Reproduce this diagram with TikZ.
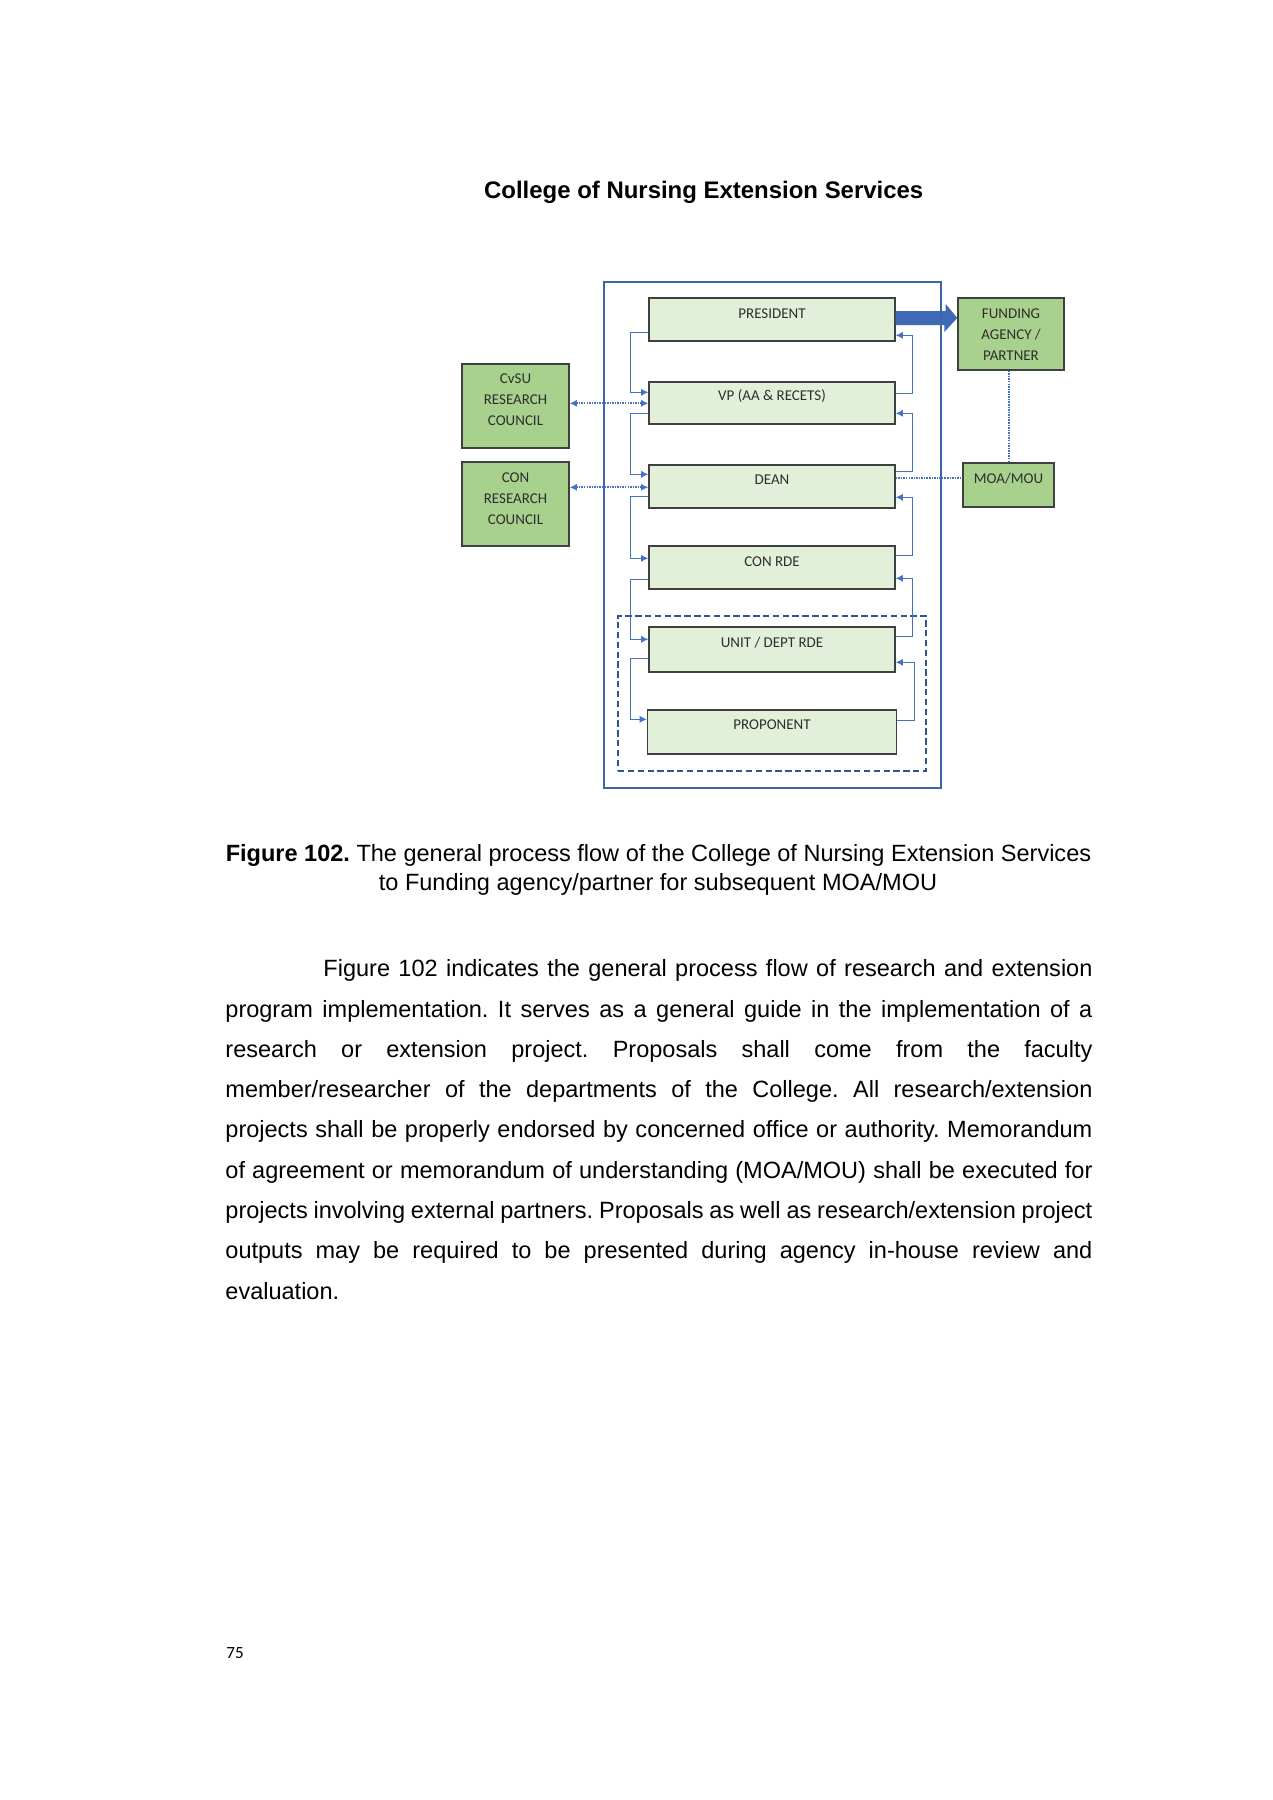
\documentclass[tikz,border=0pt]{standalone}
\usepackage{fontspec}
\setmainfont{Liberation Sans}
\newfontfamily\carlito{Carlito}
\usetikzlibrary{arrows.meta,calc}
\definecolor{mainfill}{HTML}{E2F0D9}
\definecolor{sidefill}{HTML}{A9D18E}
\definecolor{boxtext}{HTML}{2E2E2E}
\definecolor{frameblue}{HTML}{3E63A8}
\definecolor{dashblue}{HTML}{2F5597}
\definecolor{connblue}{HTML}{4472C4}
\def\pu{0.4677pt}
\frenchspacing
\begin{document}
\begin{tikzpicture}[x=0.4677pt,y=-0.4677pt,
  mainbox/.style={draw=black!75, fill=mainfill, line width=0.65pt, inner sep=0,
    minimum width={246*\pu}, minimum height={43*\pu}},
  sidebox/.style={draw=black!75, fill=sidefill, line width=0.65pt, inner sep=0},
  lbl/.style={font=\carlito\fontsize{7}{9.8}\selectfont, text=boxtext, inner sep=0, align=center},
  conn/.style={draw=connblue, line width=0.55pt, -{Latex[length=3.4pt,width=3.4pt]}},
  dotl/.style={draw=connblue, line width=0.9pt, dash pattern=on 0.7pt off 0.5pt},
  bodyline/.style={anchor=base west, inner sep=0, font=\fontsize{11}{13}\selectfont}
]
\fill[white] (0,0) rectangle (1272,1800);
\useasboundingbox (0,0) rectangle (1272,1800);

% title
\node[anchor=base, inner sep=0, font=\bfseries\fontsize{11.2}{13}\selectfont] (title) at (703.7,198) {College of Nursing Extension Services};

% dashed group frame
\node[draw=dashblue, line width=0.9pt, dash pattern=on 3pt off 1.6pt, minimum width={308*\pu}, minimum height={155*\pu}, inner sep=0] (dashbox) at (772,693.5) {};

% main boxes
\node[mainbox] (pres) at (772,319.5) {};
\node[mainbox, minimum height={42*\pu}] (vp) at (772,403) {};
\node[mainbox] (dean) at (772,486.5) {};
\node[mainbox] (conrde) at (772,567.5) {};
\node[mainbox, minimum height={45*\pu}] (unit) at (772,649.5) {};
\node[mainbox, minimum width={249*\pu}, minimum height={44*\pu}] (prop) at (772,732) {};

\node[lbl] (tpres) at ($(pres.north)+(0,16)$) {PRESIDENT};
\node[lbl] (tvp) at ($(vp.north)+(0,15)$) {VP (AA \& RECETS)};
\node[lbl] (tdean) at ($(dean.north)+(0,15)$) {DEAN};
\node[lbl] (tconrde) at ($(conrde.north)+(0,16)$) {CON RDE};
\node[lbl] (tunit) at ($(unit.north)+(0,16)$) {UNIT / DEPT RDE};
\node[lbl] (tprop) at ($(prop.north)+(0,15)$) {PROPONENT};

% side boxes
\node[sidebox, minimum width={107*\pu}, minimum height={84*\pu}] (cvsu) at (515.5,406) {};
\node[lbl] (tcvsu) at ($(cvsu.center)+(0,-6)$) {CvSU\\RESEARCH\\COUNCIL};
\node[sidebox, minimum width={107*\pu}, minimum height={84*\pu}] (conrc) at (515.5,504) {};
\node[lbl] (tconrc) at ($(conrc.center)+(0,-5)$) {CON\\RESEARCH\\COUNCIL};
\node[sidebox, minimum width={106*\pu}, minimum height={72*\pu}] (fund) at (1011,334) {};
\node[lbl] (tfund) at ($(fund.center)+(0,1)$) {FUNDING\\AGENCY /\\PARTNER};
\node[sidebox, minimum width={91*\pu}, minimum height={44*\pu}] (moa) at (1008.5,485) {};
\node[lbl] (tmoa) at ($(moa.center)+(0,-6)$) {MOA/MOU};

% big arrow president -> funding
\coordinate (ay) at (0,318);
\fill[connblue!92!black] ($(pres.east |- ay)+(0,-7)$) -- ++(50,0) -- ++(0,-7)
  -- (fund.west |- ay) -- ++(-13,14) -- ++(0,-7) -- ($(pres.east |- ay)+(0,7)$) -- cycle;

% outer frame (drawn over the arrow)
\node[draw=frameblue, line width=1pt, minimum width={337*\pu}, minimum height={506*\pu}, inner sep=0] (frame) at (772.5,535) {};

% left (downward) connectors
\draw[conn] ($(pres.north west)+(0,35)$) -- ++(-18,0) |- ($(vp.north west)+(0,11)$);
\draw[conn] ($(vp.north west)+(0,32)$) -- ++(-18,0) |- ($(dean.north west)+(0,10)$);
\draw[conn] ($(dean.north west)+(0,32)$) -- ++(-18,0) |- ($(conrde.north west)+(0,13)$);
\draw[conn] ($(conrde.north west)+(0,34)$) -- ++(-18,0) |- ($(unit.north west)+(0,13)$);
\draw[conn] ($(unit.north west)+(0,32)$) -- ++(-18,0) |- ($(prop.north west)+(0,10)$);

% right (upward) connectors
\draw[conn] ($(vp.north east)+(0,12)$) -- ++(17,0) |- ($(pres.north east)+(0,38)$);
\draw[conn] ($(dean.north east)+(0,7)$) -- ++(17,0) |- ($(vp.north east)+(0,32)$);
\draw[conn] ($(conrde.north east)+(0,10)$) -- ++(17,0) |- ($(dean.north east)+(0,33)$);
\draw[conn] ($(unit.north east)+(0,10)$) -- ++(17,0) |- ($(conrde.north east)+(0,33)$);
\draw[conn] ($(prop.north east)+(0,11)$) -- ++(17,0) |- ($(unit.north east)+(0,36)$);

% dotted links
\draw[dotl, {Latex[length=3.4pt,width=3.4pt]}-{Latex[length=3.4pt,width=3.4pt]}]
  ($(cvsu.north east)+(0,40)$) coordinate (d1) -- (d1 -| vp.west);
\draw[dotl, {Latex[length=3.4pt,width=3.4pt]}-{Latex[length=3.4pt,width=3.4pt]}]
  ($(conrc.north east)+(0,26)$) coordinate (d2) -- (d2 -| dean.west);
\draw[dotl] ($(dean.north east)+(0,14)$) coordinate (d3) -- (d3 -| moa.west);
\draw[dotl] ($(fund.south)+(-2,0)$) coordinate (d4) -- (d4 |- moa.north);

% caption
\node[anchor=base, inner sep=0, font=\fontsize{11}{13}\selectfont] (cap1) at (658.5,861.7) {\textbf{Figure 102.} The general process flow of the College of Nursing Extension Services};
\node[anchor=base, inner sep=0, font=\fontsize{11}{13}\selectfont] (cap2) at (658,890) {to Funding agency/partner for subsequent MOA/MOU};

% body text
\node[bodyline] (b1) at (323,976.7) {\makebox[359.7pt][s]{Figure 102 indicates the general process flow of research and extension}};
\node[bodyline] (b2) at (225,1017) {\makebox[405.5pt][s]{program implementation. It serves as a general guide in the implementation of a}};
\node[bodyline] (b3) at (225,1057.3) {\makebox[405.5pt][s]{research or extension project. Proposals shall come from the faculty}};
\node[bodyline] (b4) at (225,1097.6) {\makebox[405.5pt][s]{member/researcher of the departments of the College. All research/extension}};
\node[bodyline] (b5) at (225,1137.9) {\makebox[405.5pt][s]{projects shall be properly endorsed by concerned office or authority. Memorandum}};
\node[bodyline] (b6) at (225,1178.2) {\makebox[405.5pt][s]{of agreement or memorandum of understanding (MOA/MOU) shall be executed for}};
\node[bodyline] (b7) at (225,1218.5) {\makebox[405.5pt][s]{projects involving external partners. Proposals as well as research/extension project}};
\node[bodyline] (b8) at (225,1258.8) {\makebox[405.5pt][s]{outputs may be required to be presented during agency in-house review and}};
\node[bodyline] (b9) at (225,1299.1) {evaluation.};

% page number
\node[anchor=base west, inner sep=0, font=\carlito\fontsize{8}{9}\selectfont] (pg) at (226,1658) {75};
\end{tikzpicture}
\end{document}
